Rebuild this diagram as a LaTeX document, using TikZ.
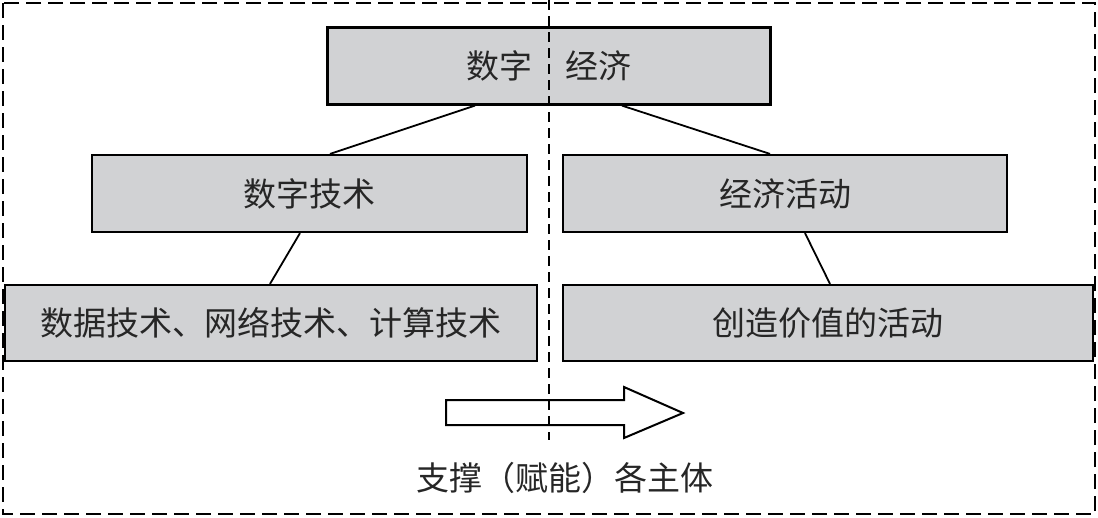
\documentclass[tikz,border=0pt]{standalone}
\usepackage{fontspec}
\newfontfamily\cjk{Noto Sans CJK SC}
\definecolor{boxgray}{HTML}{D1D2D4}
\begin{document}
\begin{tikzpicture}[x=1pt,y=-1pt,
  gbox/.style={draw=black,line width=2.2pt,fill=boxgray,minimum height=77pt,inner sep=0pt,
    font=\cjk\fontsize{33}{33}\selectfont,text=black!85},
  conn/.style={line width=1.8pt},
  lbl/.style={font=\cjk\fontsize{33}{33}\selectfont,text=black!85,inner sep=0pt}]
\useasboundingbox (0,0) rectangle (1098,517);
\draw[line width=2.2pt,dash pattern=on 15pt off 7pt] (3,3) rectangle (1095,514);
\node[gbox,minimum width=443pt] (top) at (549,66) {数字\hspace{34pt}经济};
\node[gbox,minimum width=435pt] (ml) at (309.5,193.5) {数字技术};
\node[gbox,minimum width=444pt] (mr) at (785,193.5) {经济活动};
\node[gbox,minimum width=532pt,minimum height=76pt] (bl) at (271,323) {数据技术、网络技术、计算技术};
\node[gbox,minimum width=530pt,minimum height=76pt] (br) at (828,323) {创造价值的活动};
\draw[conn] ([xshift=-74pt]top.south) -- ([xshift=20.5pt]ml.north);
\draw[conn] ([xshift=73pt]top.south) -- ([xshift=-15pt]mr.north);
\draw[conn] ([xshift=-9.5pt]ml.south) -- ([xshift=-1pt]bl.north);
\draw[conn] ([xshift=20pt]mr.south) -- ([xshift=2pt]br.north);
\draw[line width=2pt,fill=white,line join=miter]
  (446,400) -- (624,400) -- (624,387) -- (683,413) -- (624,438) -- (624,425) -- (446,425) -- cycle;
\coordinate (vtop) at (549,0);
\coordinate (vbot) at (549,440);
\draw[line width=1.8pt,dash pattern=on 10pt off 6pt] (vtop) -- (vbot);
\node[lbl] (sub) at (565,478) {支撑（赋能）各主体};
\end{tikzpicture}
\end{document}
